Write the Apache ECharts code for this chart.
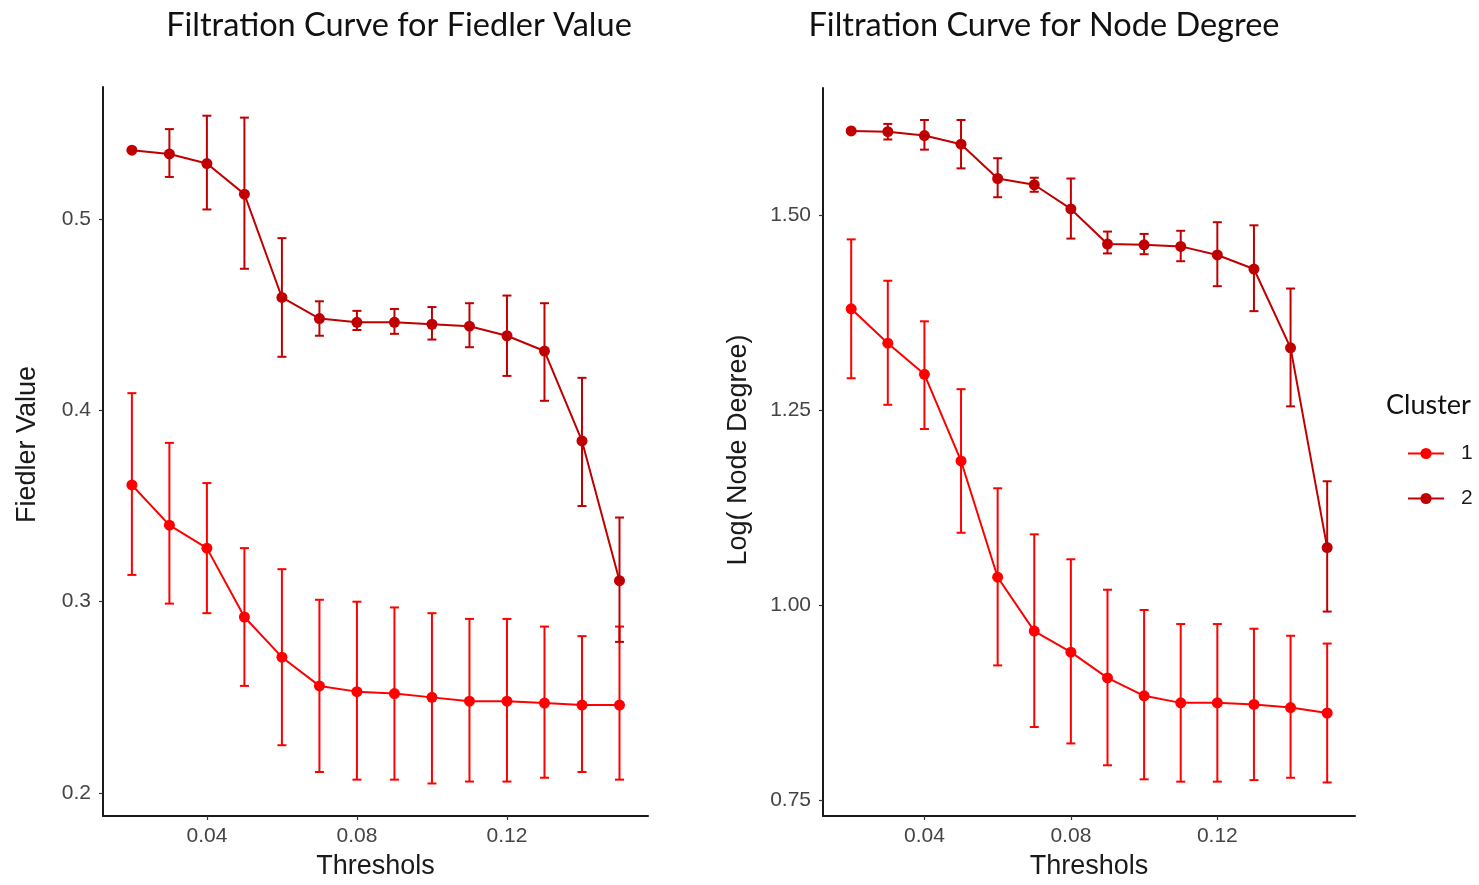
<!DOCTYPE html>
<html>
<head>
<meta charset="utf-8">
<title>Filtration Curves</title>
<script src="https://cdn.jsdelivr.net/npm/echarts@6/dist/echarts.min.js"></script>
<style>
  html, body { margin: 0; padding: 0; background: #ffffff; }
  #chart { width: 1479px; height: 885px; }
</style>
</head>
<body>
<div id="chart"></div>
<script>
// Thresholds used for the filtration
const thresholds = [0.02, 0.03, 0.04, 0.05, 0.06, 0.07, 0.08, 0.09, 0.10, 0.11, 0.12, 0.13, 0.14, 0.15];

// Fiedler value per cluster: mean, lower and upper bounds of the error bars
const fiedlerC1    = [0.361, 0.340, 0.328, 0.292, 0.271, 0.256, 0.253, 0.252, 0.250, 0.248, 0.248, 0.247, 0.246, 0.246];
const fiedlerC1Lo  = [0.314, 0.299, 0.294, 0.256, 0.225, 0.211, 0.207, 0.207, 0.205, 0.206, 0.206, 0.208, 0.211, 0.207];
const fiedlerC1Hi  = [0.409, 0.383, 0.362, 0.328, 0.317, 0.301, 0.300, 0.297, 0.294, 0.291, 0.291, 0.287, 0.282, 0.287];
const fiedlerC2    = [0.536, 0.534, 0.529, 0.513, 0.459, 0.448, 0.446, 0.446, 0.445, 0.444, 0.439, 0.431, 0.384, 0.311];
const fiedlerC2Lo  = [0.536, 0.522, 0.505, 0.474, 0.428, 0.439, 0.442, 0.440, 0.437, 0.433, 0.418, 0.405, 0.350, 0.279];
const fiedlerC2Hi  = [0.536, 0.547, 0.554, 0.553, 0.490, 0.457, 0.452, 0.453, 0.454, 0.456, 0.460, 0.456, 0.417, 0.344];

// Log(node degree) per cluster: mean, lower and upper bounds
const degreeC1     = [1.380, 1.336, 1.296, 1.185, 1.036, 0.967, 0.940, 0.907, 0.884, 0.875, 0.875, 0.873, 0.869, 0.862];
const degreeC1Lo   = [1.291, 1.257, 1.226, 1.093, 0.923, 0.844, 0.823, 0.795, 0.777, 0.774, 0.774, 0.776, 0.779, 0.773];
const degreeC1Hi   = [1.469, 1.416, 1.364, 1.277, 1.150, 1.091, 1.059, 1.020, 0.994, 0.976, 0.976, 0.970, 0.961, 0.951];
const degreeC2     = [1.608, 1.607, 1.602, 1.591, 1.547, 1.539, 1.508, 1.463, 1.462, 1.460, 1.449, 1.431, 1.330, 1.074];
const degreeC2Lo   = [1.608, 1.597, 1.584, 1.560, 1.523, 1.530, 1.470, 1.451, 1.450, 1.441, 1.409, 1.377, 1.255, 0.992];
const degreeC2Hi   = [1.608, 1.617, 1.622, 1.622, 1.573, 1.548, 1.547, 1.479, 1.476, 1.480, 1.491, 1.487, 1.406, 1.159];

// Axis tick labels
const xTicks = [0.04, 0.08, 0.12];
const fiedlerTicks = [0.2, 0.3, 0.4, 0.5];
const degreeTicks = [0.75, 1.00, 1.25, 1.50];

const clusterNames = ['1', '2'];
const clusterColors = ['#ff0000', '#c00000'];

const titleFont = 'Lato, "Open Sans", sans-serif';
const axisFont = '"Liberation Sans", Arial, sans-serif';

function points(ys) {
  return thresholds.map((x, i) => [x, ys[i]]);
}
function bars(lo, hi) {
  return thresholds.map((x, i) => [x, lo[i], hi[i]]);
}

function errorBarSeries(gridIdx, lo, hi, color) {
  return {
    type: 'custom',
    xAxisIndex: gridIdx,
    yAxisIndex: gridIdx,
    silent: true,
    z: 2,
    data: bars(lo, hi),
    renderItem: function (params, api) {
      const x = api.value(0);
      const top = api.coord([x, api.value(2)]);
      const bot = api.coord([x, api.value(1)]);
      const half = 4.5;
      const style = { stroke: color, lineWidth: 2 };
      return {
        type: 'group',
        children: [
          { type: 'line', shape: { x1: top[0], y1: top[1], x2: bot[0], y2: bot[1] }, style: style },
          { type: 'line', shape: { x1: top[0] - half, y1: top[1], x2: top[0] + half, y2: top[1] }, style: style },
          { type: 'line', shape: { x1: bot[0] - half, y1: bot[1], x2: bot[0] + half, y2: bot[1] }, style: style }
        ]
      };
    }
  };
}

function lineSeries(gridIdx, name, ys, color) {
  return {
    type: 'line',
    name: name,
    xAxisIndex: gridIdx,
    yAxisIndex: gridIdx,
    data: points(ys),
    symbol: 'circle',
    symbolSize: 11,
    z: 3,
    lineStyle: { color: color, width: 2 },
    itemStyle: { color: color },
    emphasis: { disabled: true },
    animation: false
  };
}

function xAxis(gridIdx) {
  return {
    type: 'value',
    gridIndex: gridIdx,
    min: 0.0123,
    max: 0.1576,
    name: 'Threshols',
    nameLocation: 'middle',
    nameGap: 37,
    nameTextStyle: { fontFamily: axisFont, fontSize: 27, color: '#1a1a1a' },
    axisLine: { show: true, lineStyle: { color: '#1a1a1a', width: 2 } },
    axisTick: { show: true, length: 4, inside: false, customValues: xTicks, lineStyle: { color: '#333', width: 1.2 } },
    axisLabel: {
      customValues: xTicks,
      margin: 10,
      fontFamily: axisFont,
      fontSize: 21,
      color: '#444',
      formatter: v => v.toFixed(2)
    },
    splitLine: { show: false }
  };
}

function yAxis(gridIdx, min, max, ticks, digits, name, gap, shift) {
  return {
    type: 'value',
    gridIndex: gridIdx,
    min: min,
    max: max,
    name: name,
    nameLocation: 'middle',
    nameGap: gap,
    nameTextStyle: { fontFamily: axisFont, fontSize: 27, color: '#1a1a1a', padding: [0, 0, 0, shift] },
    axisLine: { show: true, lineStyle: { color: '#1a1a1a', width: 2 } },
    axisTick: { show: true, length: 4, inside: false, customValues: ticks, lineStyle: { color: '#333', width: 1.2 } },
    axisLabel: {
      customValues: ticks,
      margin: 12,
      fontFamily: axisFont,
      fontSize: 21,
      color: '#444',
      formatter: v => v.toFixed(digits)
    },
    splitLine: { show: false }
  };
}

const chart = echarts.init(document.getElementById('chart'), null, { renderer: 'canvas' });

chart.setOption({
  backgroundColor: '#ffffff',
  animation: false,
  title: [
    {
      text: 'Filtration Curve for Fiedler Value',
      left: 394, top: 4, textAlign: 'center',
      textStyle: { fontFamily: titleFont, fontSize: 32.5, fontWeight: 'normal', color: '#111' }
    },
    {
      text: 'Filtration Curve for Node Degree',
      left: 1039, top: 4, textAlign: 'center',
      textStyle: { fontFamily: titleFont, fontSize: 32.5, fontWeight: 'normal', color: '#111' }
    }
  ],
  grid: [
    { left: 103, top: 87, width: 545, height: 731, containLabel: false },
    { left: 823, top: 88, width: 532, height: 734, containLabel: false }
  ],
  xAxis: [xAxis(0), xAxis(1)],
  yAxis: [
    yAxis(0, 0.188, 0.569, fiedlerTicks, 1, 'Fiedler Value', 62, 14),
    yAxis(1, 0.730, 1.663, degreeTicks, 2, 'Log( Node Degree)', 71, 4)
  ],
  legend: {
    data: clusterNames,
    orient: 'vertical',
    left: 1402,
    top: 438,
    itemWidth: 36,
    itemHeight: 14,
    itemGap: 24,
    selectedMode: false,
    textStyle: { fontFamily: axisFont, fontSize: 21, color: '#1a1a1a', padding: [0, 0, 0, 12] }
  },
  graphic: [
    {
      type: 'text',
      left: 1386,
      top: 392,
      style: { text: 'Cluster', font: '27px ' + titleFont, fill: '#111' }
    }
  ],
  series: [
    errorBarSeries(0, fiedlerC1Lo, fiedlerC1Hi, clusterColors[0]),
    lineSeries(0, clusterNames[0], fiedlerC1, clusterColors[0]),
    errorBarSeries(0, fiedlerC2Lo, fiedlerC2Hi, clusterColors[1]),
    lineSeries(0, clusterNames[1], fiedlerC2, clusterColors[1]),
    errorBarSeries(1, degreeC1Lo, degreeC1Hi, clusterColors[0]),
    lineSeries(1, clusterNames[0], degreeC1, clusterColors[0]),
    errorBarSeries(1, degreeC2Lo, degreeC2Hi, clusterColors[1]),
    lineSeries(1, clusterNames[1], degreeC2, clusterColors[1])
  ]
});
</script>
</body>
</html>
